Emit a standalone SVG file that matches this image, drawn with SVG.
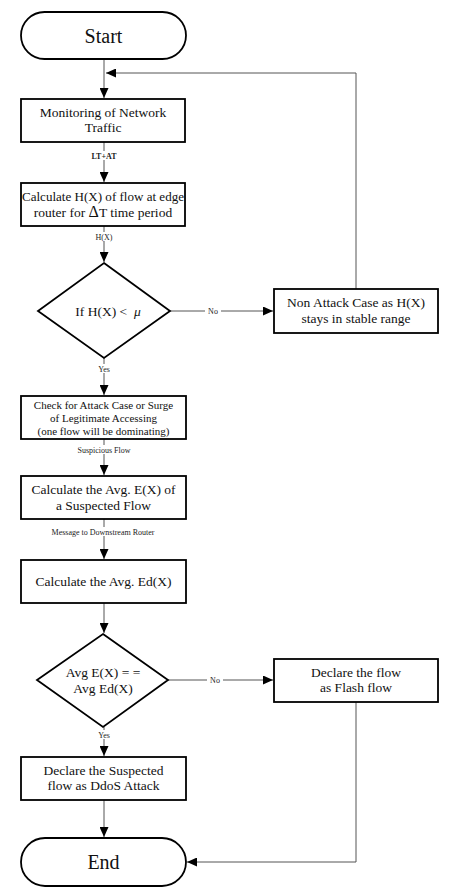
<svg xmlns="http://www.w3.org/2000/svg" width="454" height="895" viewBox="0 0 454 895">
<defs>
<style>
.n{fill:#fff;stroke:#000;stroke-width:1.8}
.t{font-family:"Liberation Serif","Times New Roman",serif;fill:#111;text-anchor:middle;font-size:13.5px}
.c{fill:none;stroke:#555;stroke-width:1}
.lb{fill:#fff;stroke:none}
.l{font-family:"Liberation Serif","Times New Roman",serif;font-size:8px;fill:#222;text-anchor:middle}
</style>
<marker id="ah" markerUnits="userSpaceOnUse" markerWidth="10" markerHeight="9" refX="10" refY="4.5" orient="auto">
<path d="M0,0 L10,4.5 L0,9 z" fill="#000"/>
</marker>
</defs>
<rect width="454" height="895" fill="#fff"/>
<g id="connectors">
<path class="c" d="M104,59 V98" marker-end="url(#ah)"/>
<path class="c" d="M356,289 V73 H106" marker-end="url(#ah)"/>
<path class="c" d="M104,142 V182" marker-end="url(#ah)"/>
<path class="c" d="M104,226 V262" marker-end="url(#ah)"/>
<path class="c" d="M170,311 H273" marker-end="url(#ah)"/>
<path class="c" d="M104,358 V395" marker-end="url(#ah)"/>
<path class="c" d="M104,439 V475" marker-end="url(#ah)"/>
<path class="c" d="M104,519 V559" marker-end="url(#ah)"/>
<path class="c" d="M104,603 V633" marker-end="url(#ah)"/>
<path class="c" d="M168,680 H273" marker-end="url(#ah)"/>
<path class="c" d="M104,727 V756" marker-end="url(#ah)"/>
<path class="c" d="M104,800 V837" marker-end="url(#ah)"/>
<path class="c" d="M356,702 V862 H187" marker-end="url(#ah)"/>
<rect class="lb" x="86" y="151" width="36" height="9"/>
<text class="l" x="104" y="159" font-weight="bold">LT+AT</text>
<rect class="lb" x="93" y="232" width="22" height="9"/>
<text class="l" x="104" y="240">H(X)</text>
<rect class="lb" x="205" y="306" width="16" height="10"/>
<text class="l" x="213" y="314">No</text>
<rect class="lb" x="95" y="364" width="18" height="9"/>
<text class="l" x="104" y="372">Yes</text>
<rect class="lb" x="70" y="445" width="68" height="9"/>
<text class="l" x="104" y="453">Suspicious Flow</text>
<rect class="lb" x="40" y="527" width="128" height="9"/>
<text class="l" x="103" y="535">Message to Downstream Router</text>
<rect class="lb" x="207" y="675" width="16" height="10"/>
<text class="l" x="215" y="683">No</text>
<rect class="lb" x="95" y="730" width="18" height="9"/>
<text class="l" x="104" y="738">Yes</text>
</g>
<g id="start">
<rect class="n" x="21" y="12" width="165" height="47" rx="23.5"/>
<text class="t" x="103.5" y="43" style="font-size:20px">Start</text>
</g>
<g id="monitor">
<rect class="n" x="21" y="99" width="164" height="43"/>
<text class="t" x="103" y="117">Monitoring of Network</text>
<text class="t" x="103" y="132">Traffic</text>
</g>
<g id="calcH">
<rect class="n" x="21" y="183" width="164" height="43"/>
<text class="t" x="103" y="201" textLength="162" lengthAdjust="spacingAndGlyphs">Calculate H(X) of flow at edge</text>
<text class="t" x="103" y="217">router for <tspan font-size="16">Δ</tspan>T time period</text>
</g>
<g id="dec1">
<path class="n" d="M104,263 L170,311 L104,358 L38,311 Z"/>
<text class="t" x="108" y="316" xml:space="preserve">If H(X) &lt;  <tspan font-style="italic">μ</tspan></text>
</g>
<g id="nonattack">
<rect class="n" x="274" y="289" width="164" height="44"/>
<text class="t" x="356" y="307">Non Attack Case as H(X)</text>
<text class="t" x="356" y="323">stays in stable range</text>
</g>
<g id="check">
<rect class="n" x="21" y="396" width="165" height="43"/>
<text class="t" x="103.5" y="409" style="font-size:11px">Check for Attack Case or Surge</text>
<text class="t" x="103.5" y="422" style="font-size:11px">of Legitimate Accessing</text>
<text class="t" x="103.5" y="435" style="font-size:11px">(one flow will be dominating)</text>
</g>
<g id="calcE">
<rect class="n" x="21" y="476" width="165" height="43"/>
<text class="t" x="103.5" y="494">Calculate the Avg. E(X) of</text>
<text class="t" x="103.5" y="510">a Suspected Flow</text>
</g>
<g id="calcEd">
<rect class="n" x="21" y="560" width="165" height="43"/>
<text class="t" x="103.5" y="586">Calculate the Avg. Ed(X)</text>
</g>
<g id="dec2">
<path class="n" d="M103,634 L168,680 L103,727 L37,680 Z"/>
<text class="t" x="103" y="677">Avg E(X) = =</text>
<text class="t" x="103" y="693">Avg Ed(X)</text>
</g>
<g id="flash">
<rect class="n" x="274" y="659" width="164" height="43"/>
<text class="t" x="356" y="677">Declare the flow</text>
<text class="t" x="356" y="692">as Flash flow</text>
</g>
<g id="ddos">
<rect class="n" x="21" y="757" width="165" height="43"/>
<text class="t" x="103.5" y="775">Declare the Suspected</text>
<text class="t" x="103.5" y="790">flow as DdoS Attack</text>
</g>
<g id="end">
<rect class="n" x="21" y="838" width="165" height="48" rx="24"/>
<text class="t" x="103.5" y="869" style="font-size:20px">End</text>
</g>
</svg>
